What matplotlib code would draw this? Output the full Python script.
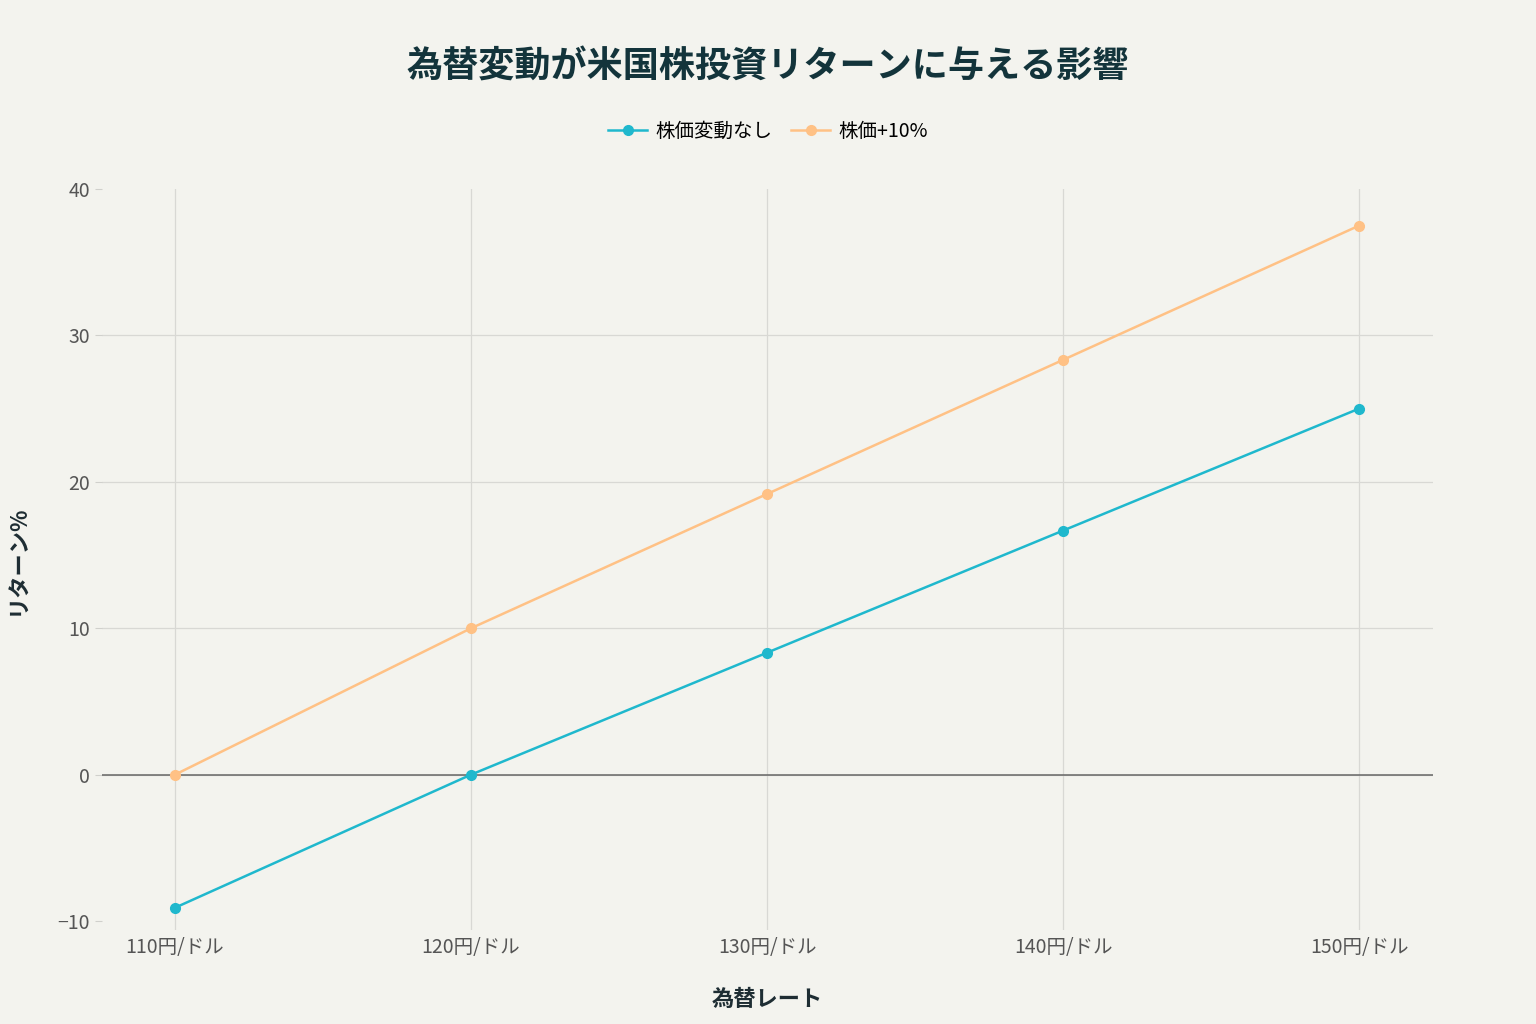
import matplotlib.pyplot as plt

plt.rcParams['font.family'] = ['Noto Sans CJK JP', 'DejaVu Sans']

# データ
rates = ['110円/ドル', '120円/ドル', '130円/ドル', '140円/ドル', '150円/ドル']
ret_flat = [-9.09, 0.0, 8.33, 16.67, 25.0]      # 株価変動なし
ret_up10 = [0.0, 10.0, 19.17, 28.33, 37.5]      # 株価+10%
yticks = [-10, 0, 10, 20, 30, 40]

bg = '#F3F3EE'
fig = plt.figure(figsize=(15.36, 10.24), dpi=100, facecolor=bg)
ax = fig.add_axes([0.0664, 0.092, 0.8666, 0.7234], facecolor=bg)

x = list(range(len(rates)))
ax.plot(x, ret_flat, color='#1FB8CD', lw=1.8, marker='o', ms=7, label='株価変動なし', zorder=3)
ax.plot(x, ret_up10, color='#FFC185', lw=1.8, marker='o', ms=7, label='株価+10%', zorder=3)

ax.axhline(0, color='#666666', lw=1.1, zorder=2)
ax.set_xlim(-0.247, 4.25)
ax.set_ylim(-10.6, 40)
ax.set_xticks(x)
ax.set_xticklabels(rates)
ax.set_yticks(yticks)
ax.set_yticklabels(['−10', '0', '10', '20', '30', '40'])
ax.grid(True, color='#D8D8D4', lw=0.9)
# 端の目盛りには横グリッドを引かない
ygrid = ax.yaxis.get_gridlines()
ygrid[0].set_visible(False)
ygrid[-1].set_visible(False)
for s in ax.spines.values():
    s.set_visible(False)
ax.tick_params(axis='both', colors='#D0D0CC', labelcolor='#555555', labelsize=14, length=5)
ax.tick_params(axis='x', length=0, pad=5)

ax.set_xlabel('為替レート', fontsize=16, fontweight='bold', color='#1E2D33', labelpad=22)
ax.set_ylabel('リターン%', fontsize=16, fontweight='bold', color='#1E2D33', labelpad=20)

fig.suptitle('為替変動が米国株投資リターンに与える影響', fontsize=26, fontweight='bold',
             color='#13343B', y=0.953)
fig.legend(loc='center', bbox_to_anchor=(0.5, 0.872), ncol=2, frameon=False,
           fontsize=14, handlelength=2, columnspacing=1, handletextpad=0.4)

plt.savefig('out.png', facecolor=bg)
